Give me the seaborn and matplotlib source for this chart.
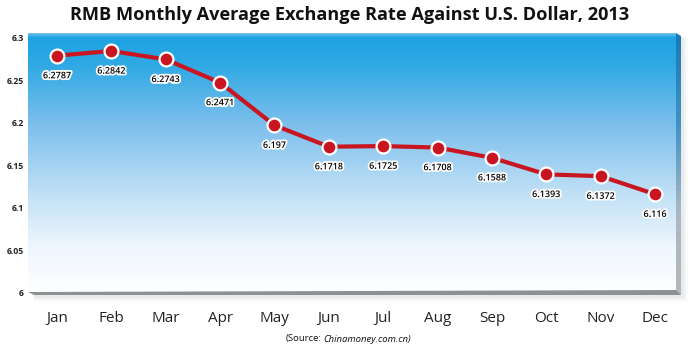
import numpy as np
import pandas as pd
import matplotlib
matplotlib.use("Agg")
import matplotlib.pyplot as plt
import matplotlib.patheffects as pe
from matplotlib.colors import LinearSegmentedColormap
from matplotlib.patches import Polygon
import seaborn as sns

# Monthly average RMB/USD central parity, 2013
months = ["Jan", "Feb", "Mar", "Apr", "May", "Jun",
          "Jul", "Aug", "Sep", "Oct", "Nov", "Dec"]
rates = [6.2787, 6.2842, 6.2743, 6.2471, 6.197, 6.1718,
         6.1725, 6.1708, 6.1588, 6.1393, 6.1372, 6.116]
rate_labels = ["6.2787", "6.2842", "6.2743", "6.2471", "6.197", "6.1718",
               "6.1725", "6.1708", "6.1588", "6.1393", "6.1372", "6.116"]
yticks = [6, 6.05, 6.1, 6.15, 6.2, 6.25, 6.3]
ytick_labels = ["6", "6.05", "6.1", "6.15", "6.2", "6.25", "6.3"]

df = pd.DataFrame({"month": months, "rate": rates})

sns.set_style("white")
plt.rcParams["font.family"] = ["Open Sans", "DejaVu Sans"]

W, H = 700, 352
fig = plt.figure(figsize=(7, 3.52), dpi=100)

# front face of the panel: x 28..676, y 33..293 (pixels from top)
left, right, top, bottom = 28, 676, 33, 293
ax = fig.add_axes([left / W, 1 - bottom / H, (right - left) / W, (bottom - top) / H])

# blue-to-white vertical gradient background
cmap = LinearSegmentedColormap.from_list(
    "bg", [(0.0, "#6fc0ec"), (0.015, "#1ea2e2"), (0.12, "#2fa9e4"),
           (0.35, "#7cbfec"), (0.6, "#bcdef5"), (0.82, "#eef6fd"), (1.0, "#ffffff")])
grad = np.linspace(0, 1, 256).reshape(-1, 1)
ax.imshow(grad, cmap=cmap, aspect="auto", extent=[0, 1, 0, 1],
          transform=ax.transAxes, zorder=0)

red = "#c8151f"
sns.lineplot(data=df, x="month", y="rate", ax=ax, color=red, linewidth=3.0,
             marker="o", markersize=10, markerfacecolor=red,
             markeredgecolor="white", markeredgewidth=1.6, zorder=3)

for i, (v, lab) in enumerate(zip(rates, rate_labels)):
    ax.annotate(lab, (i, v), xytext=(0, -14.5), textcoords="offset points",
                ha="center", va="center", fontsize=6.5, fontweight="semibold",
                color="black",
                path_effects=[pe.withStroke(linewidth=2.6, foreground="white")],
                zorder=4)

ax.set_xlim(-0.533, 11.386)
ax.set_ylim(6.0, 6.3053)
ax.set_yticks(yticks)
ax.set_yticklabels(ytick_labels, fontsize=6.2, fontweight="bold", color="#222222")
ax.set_xticks(range(len(months)))
ax.set_xticklabels(months, fontsize=11, color="#222222")
ax.tick_params(axis="y", length=0, pad=3)
ax.tick_params(axis="x", length=0, pad=13)
ax.set_xlabel("")
ax.set_ylabel("")
for s in ax.spines.values():
    s.set_visible(False)


def px(x, y):
    return (x / W, 1 - y / H)


def quad(pts, **kw):
    fig.patches.append(Polygon([px(*p) for p in pts], closed=True,
                               transform=fig.transFigure, edgecolor="none", **kw))


# soft shadow around the panel (right strip and bottom strip)
for k, a in [(7, 0.05), (5, 0.07), (3, 0.1)]:
    quad([(681, 37), (681 + k, 37), (681 + k, 295 + k), (681, 295 + k)],
         facecolor="#9aa3ab", alpha=a)
    quad([(34, 295), (681, 295), (681, 295 + k), (34, 295 + k)],
         facecolor="#9aa3ab", alpha=a)

# right bevel (dark blue to grey)
nseg = 40
ys = np.linspace(36, 295, nseg + 1)
rb = LinearSegmentedColormap.from_list("rb", ["#1a7ab8", "#3f93c4", "#a8b8c4", "#b4b8bc"])
quad([(676, 33), (681, 36), (681, 37), (676, 37)], facecolor=rb(0.0))
for j in range(nseg):
    quad([(676, ys[j]), (681, ys[j]), (681, ys[j + 1]), (676, ys[j + 1])],
         facecolor=rb(j / nseg))

# bottom bevel (grey)
quad([(28, 292), (676, 290), (681, 295), (34, 295)], facecolor="#8e9194")

fig.text(0.5, 1 - 15 / H, "RMB Monthly Average Exchange Rate Against U.S. Dollar, 2013",
         ha="center", va="center", fontsize=13.1, fontweight="bold", color="#111111")

fig.text(321 / W, 1 - 339 / H, "(Source:", ha="right", va="center",
         fontsize=6.8, color="#111111")
fig.text(323 / W, 1 - 339 / H, "Chinamoney.com.cn)", ha="left", va="center",
         fontsize=6.8, style="italic", color="#111111")

fig.savefig("out.png", dpi=100)
